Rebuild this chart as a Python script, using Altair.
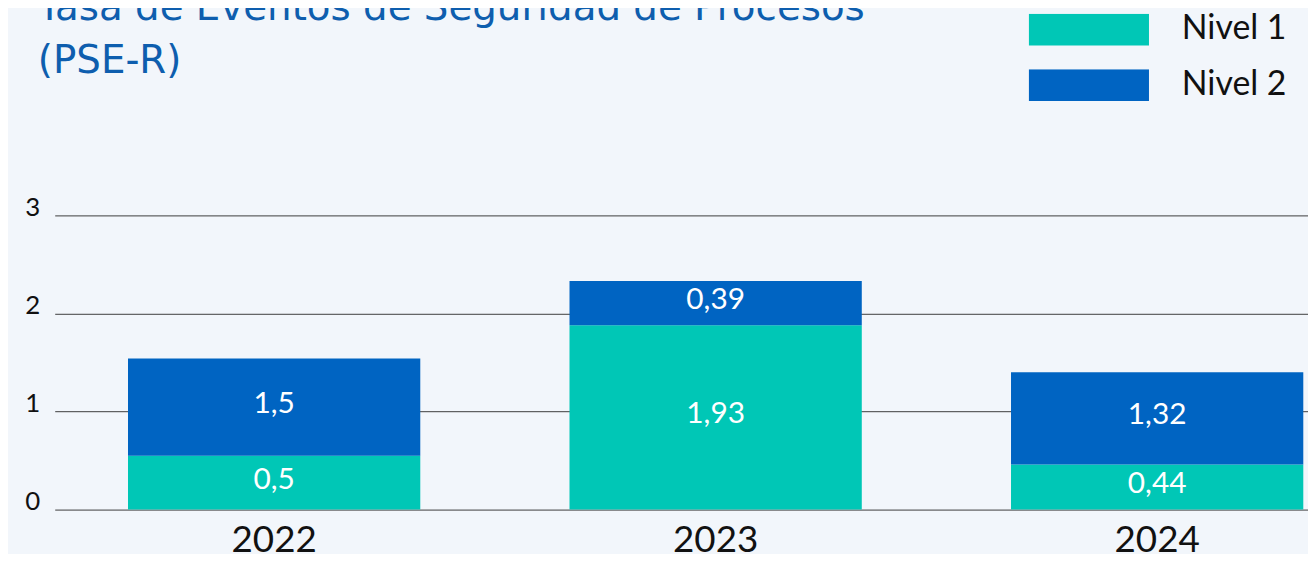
import altair as alt
import pandas as pd

# Data
years = ["2022", "2023", "2024"]
levels = ["Nivel 1", "Nivel 2"]
nivel1_height = [0.55, 1.88, 0.46]      # drawn bar heights
nivel2_height = [0.99, 0.45, 0.94]
nivel1_label = ["0,5", "1,93", "0,44"]  # printed labels
nivel2_label = ["1,5", "0,39", "1,32"]
y_ticks = [0, 1, 2, 3]
title_lines = ["Tasa de Eventos de Seguridad de Procesos", "(PSE-R)"]
colors = ["#00C7B6", "#0064C2"]

rows = []
for i, yr in enumerate(years):
    rows.append({"year": yr, "nivel": levels[0], "order": 0, "value": nivel1_height[i], "label": nivel1_label[i]})
    rows.append({"year": yr, "nivel": levels[1], "order": 1, "value": nivel2_height[i], "label": nivel2_label[i]})
df = pd.DataFrame(rows)

FONT = "Lato"

base = alt.Chart(df).transform_stack(
    stack="value", groupby=["year"], as_=["y0", "y1"],
    sort=[alt.SortField("order", order="ascending")]
).transform_calculate(mid="(datum.y0 + datum.y1) / 2")

x_enc = alt.X(
    "year:N", title=None, sort=years,
    scale=alt.Scale(range=[0, 1330], paddingInner=0.338, paddingOuter=0.166),
    axis=alt.Axis(labelAngle=0, labelFontSize=37, labelColor="#111111", labelFont=FONT,
                  domain=False, ticks=False, labelPadding=13, grid=False),
)

bars = base.mark_bar().encode(
    x=x_enc,
    y=alt.Y("y0:Q", title=None,
            scale=alt.Scale(domain=[0, 3], nice=False),
            axis=alt.Axis(values=y_ticks, labelFontSize=26, labelColor="#111111", labelFont=FONT,
                          labelBaseline="alphabetic", labelPadding=15, tickSize=0, domain=False,
                          grid=True, gridColor="#3c3c3c", gridWidth=1, format="d")),
    y2="y1:Q",
    color=alt.Color("nivel:N", title=None,
                    scale=alt.Scale(domain=levels, range=colors),
                    legend=alt.Legend(orient="none", legendX=980, legendY=-203,
                                      symbolType="M-1,-0.2645H1V0.2645H-1Z", symbolSize=14641,
                                      symbolStrokeWidth=0, symbolOpacity=1, clipHeight=32,
                                      rowPadding=22, labelFontSize=34, labelFont=FONT,
                                      labelColor="#111111", labelOffset=33, padding=0)),
)

labels = base.mark_text(color="white", fontSize=30, font=FONT, fontWeight="normal",
                        baseline="middle", dy=-3).encode(
    x=alt.X("year:N", sort=years),
    y=alt.Y("mid:Q"),
    text="label:N",
)

chart = alt.layer(bars, labels).properties(
    width=1261, height=296,
    autosize=alt.AutoSizeParams(type="none"),
    padding={"left": 47, "top": 207, "right": 0, "bottom": 43},
    background="#F2F6FB",
    title=alt.TitleParams(text=title_lines, anchor="start", frame="group", fontSize=39,
                          font="DejaVu Sans", fontWeight="normal", color="#0E5EAE", lineHeight=54,
                          baseline="alphabetic", offset=-99, dx=-17),
).configure_view(stroke=None)

chart.save("out.html", embed_options={"renderer": "svg", "actions": False})
